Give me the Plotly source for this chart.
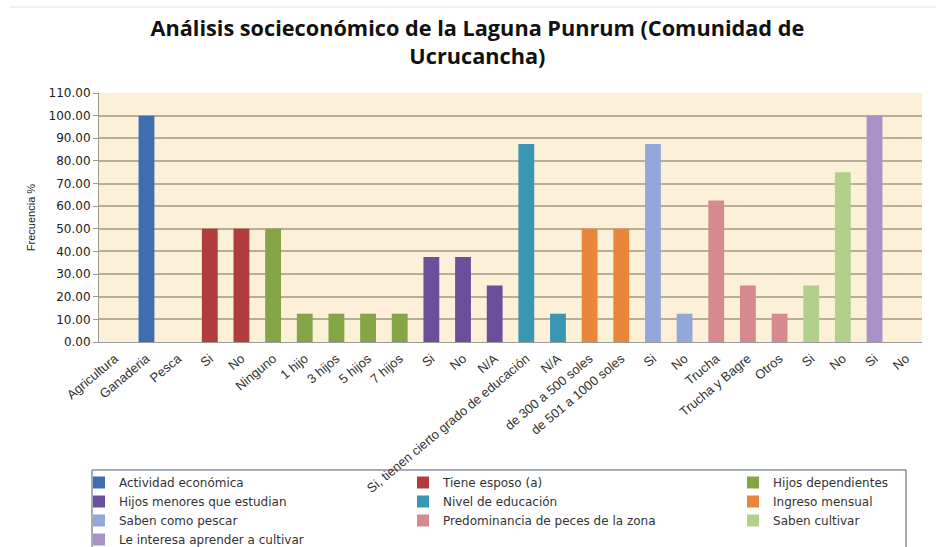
import plotly.graph_objects as go

categories = ["Agricultura", "Ganaderia", "Pesca", "Si", "No", "Ninguno", "1 hijo", "3 hijos",
              "5 hijos", "7 hijos", "Si", "No", "N/A", "Si, tienen cierto grado de educación",
              "N/A", "de 300 a 500 soles", "de 501 a 1000 soles", "Si", "No", "Trucha",
              "Trucha y Bagre", "Otros", "Si", "No", "Si", "No"]

series_names = ["Actividad económica", "Tiene esposo (a)", "Hijos dependientes",
                "Hijos menores que estudian", "Nivel de educación", "Ingreso mensual",
                "Saben como pescar", "Predominancia de peces de la zona", "Saben cultivar",
                "Le interesa aprender a cultivar"]

actividad = [0.0, 100.0, 0.0]
esposo = [50.0, 50.0]
hijos_dep = [50.0, 12.5, 12.5, 12.5, 12.5]
hijos_est = [37.5, 37.5, 25.0]
educacion = [87.5, 12.5]
ingreso = [50.0, 50.0]
pescar = [87.5, 12.5]
peces = [62.5, 25.0, 12.5]
cultivar = [25.0, 75.0]
interesa = [100.0, 0.0]

series_values = [actividad, esposo, hijos_dep, hijos_est, educacion, ingreso,
                 pescar, peces, cultivar, interesa]

colors = ["#3F6DB1", "#B23C3B", "#84A545", "#6B4F9A", "#3A97B2", "#E8863A",
          "#93A8D8", "#D48A8F", "#B3CF8C", "#A892C6"]

y_ticks = [0, 10, 20, 30, 40, 50, 60, 70, 80, 90, 100, 110]

# legend columns (row-major order in the original legend, 3 columns)
legend_ids = ["legend", "legend2", "legend3"]

fig = go.Figure()
start = 0
for i, (name, vals, col) in enumerate(zip(series_names, series_values, colors)):
    xs = list(range(start, start + len(vals)))
    fig.add_trace(go.Bar(x=xs, y=vals, name=name, marker_color=col,
                         marker_line_width=0, width=0.5,
                         legend=legend_ids[i % 3]))
    start += len(vals)

leg_font = dict(family="DejaVu Sans, sans-serif", size=12, color="#333333")
leg_common = dict(orientation="v", yanchor="top", y=(342 - 468) / 249, xanchor="left",
                  bgcolor="rgba(0,0,0,0)", borderwidth=0, traceorder="normal",
                  font=leg_font)

fig.update_layout(
    width=936, height=547,
    paper_bgcolor="white",
    plot_bgcolor="#FCF0D9",
    barmode="overlay",
    margin=dict(l=99, r=14, t=93, b=205, autoexpand=False),
    title=dict(text="<b>Análisis socieconómico de la Laguna Punrum (Comunidad de<br>Ucrucancha)</b>",
               x=0.51, xanchor="center", xref="container",
               y=1 - 36 / 547, yanchor="middle", yref="container",
               font=dict(family="Open Sans, sans-serif", size=21.7, color="#111111")),
    xaxis=dict(tickmode="array", tickvals=list(range(len(categories))), ticktext=categories,
               tickangle=-40, range=[-0.5, len(categories) - 0.5], automargin=False,
               showgrid=False, showline=True, linecolor="#9A9A9A", linewidth=1,
               tickfont=dict(family="Liberation Sans, sans-serif", size=13, color="#333333"),
               ticks="", ticklabelstandoff=3),
    yaxis=dict(tickmode="array", tickvals=y_ticks,
               ticktext=[f"{v:.2f}" for v in y_ticks], range=[0, 110], automargin=False,
               showgrid=True, gridcolor="#B8AD96", gridwidth=1.5,
               showline=True, linecolor="#9A9A9A", ticks="outside", ticklen=5,
               tickcolor="#9A9A9A", zeroline=False,
               tickfont=dict(family="DejaVu Sans, sans-serif", size=12, color="#222222"),
               title=dict(text="Frecuencia %", standoff=10,
                          font=dict(family="Liberation Sans, sans-serif", size=11,
                                    color="#222222"))),
    legend=dict(x=-0.0243, **leg_common),
    legend2=dict(x=0.3694, **leg_common),
    legend3=dict(x=0.7704, **leg_common),
    showlegend=True,
)

# legend frame
fig.add_shape(type="rect", xref="paper", yref="paper",
              x0=(92 - 99) / 823, x1=(906 - 99) / 823,
              y0=(342 - 470) / 249, y1=(342 - 575) / 249,
              line=dict(color="#4A5A70", width=1), fillcolor="rgba(0,0,0,0)", layer="below")

# thin light rule at the top of the image
fig.add_shape(type="line", xref="paper", yref="paper", x0=-0.108, x1=1.02,
              y0=(342 - 7) / 249, y1=(342 - 7) / 249, line=dict(color="#E3E3E3", width=1))

fig.write_html("out.html")
